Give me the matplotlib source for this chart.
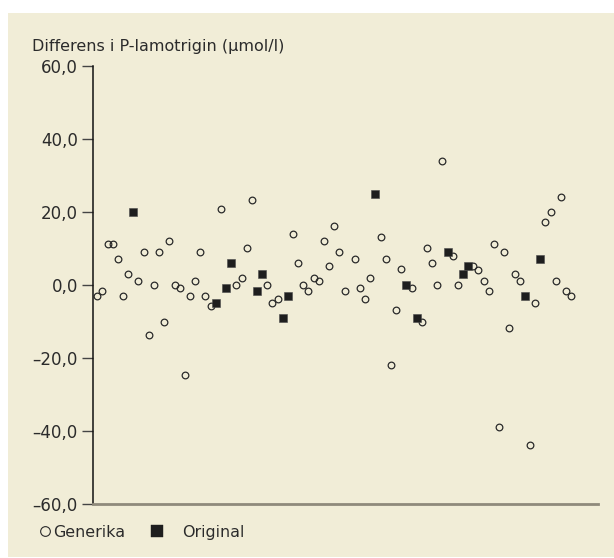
import matplotlib
matplotlib.use("Agg")
import matplotlib.pyplot as plt
from matplotlib.lines import Line2D
from matplotlib.patches import Rectangle
import numpy as np

plt.rcParams['font.family'] = ['DejaVu Sans']

# patient number (no 50) and difference in P-lamotrigin, umol/l
patient = [i for i in range(1, 94) if i != 50]
diff = [-3.0, -1.7, 11.2, 11.2, 7.1, -3.0, 3.0, 20.0, 1.1, 9.0,
        -13.7, 0.1, 9.0, -10.0, 12.1, 0.1, -0.8, -24.7, -3.0, 1.1,
        9.0, -3.0, -5.8, -4.9, 20.9, -0.8, 6.1, 0.1, 2.0, 10.2,
        23.2, -1.7, 3.0, 0.1, -4.9, -3.9, -9.0, -3.0, 14.0, 6.1,
        0.1, -1.7, 2.0, 1.1, 12.1, 5.2, 16.2, 9.0, -1.7,
        7.0, -0.8, -3.9, 2.0, 25.0, 13.1, 7.0, -21.9, -6.8, 4.3,
        0.1, -0.8, -9.0, -10.0, 10.2, 6.1, 0.1, 34.1, 9.0, 7.9,
        0.1, 3.0, 5.2, 5.2, 4.2, 1.1, -1.7, 11.2, -39.0, 9.0,
        -11.9, 3.0, 1.1, -3.0, -43.8, -4.9, 7.0, 17.2, 20.0, 1.1,
        24.1, -1.7, -3.0]
# patients on Original, the rest on Generika
original = [8, 24, 26, 27, 32, 33, 37, 38, 55, 61, 63, 69, 72, 73, 84, 87]
yticks = [-60, -40, -20, 0, 20, 40, 60]

bg = '#f1edd7'
ink = '#2b2b2b'

patient = np.array(patient)
diff = np.array(diff)
is_orig = np.isin(patient, original)

fig = plt.figure(figsize=(6.14, 5.58), dpi=100)
fig.patch.set_facecolor('white')
fig.add_artist(Rectangle((8/614, 1.5/558), 606/614, 543.5/558,
                         transform=fig.transFigure, facecolor=bg, edgecolor='none', zorder=0))

ax = fig.add_axes([93/614, 54/558, 505/614, 438/558])
ax.set_facecolor('none')

ax.plot(patient[~is_orig], diff[~is_orig], 'o', ms=4.8, mfc='none', mec='#2a2a2a', mew=0.9, clip_on=False)
ax.plot(patient[is_orig], diff[is_orig], 's', ms=5.3, mfc='#1e1e1e', mec='#4a4a4a', mew=0.4, clip_on=False)

ax.set_ylim(-60, 60)
ax.set_xlim(0.17, 98.2)
ax.set_xticks([])
ax.set_yticks(yticks)
ax.set_yticklabels([f"{v:.1f}".replace('.', ',').replace('-', '\u2013') for v in yticks])
ax.tick_params(axis='y', length=8.0, width=1.0, color='#444444', labelsize=12.0, labelcolor=ink, pad=2.9)
for s in ['top', 'right']:
    ax.spines[s].set_visible(False)
ax.spines['left'].set_color('#111111')
ax.spines['left'].set_linewidth(1.1)
ax.spines['bottom'].set_color('#8f8a7b')
ax.spines['bottom'].set_linewidth(2.0)

fig.text(31.7/614, 1 - 50.7/558, "Differens i P-lamotrigin (\u00b5mol/l)", ha='left', va='baseline',
         fontsize=11.5, color=ink)

# legend
h1 = Line2D([], [], marker='o', ls='none', ms=7.0, mfc='none', mec='#2a2a2a', mew=0.8)
h2 = Line2D([], [], marker='s', ls='none', ms=8.4, mfc='#1e1e1e', mec='#1e1e1e', mew=0.3)
leg1 = fig.legend([h1], ['Generika'], loc='center left', bbox_to_anchor=(37.9/614, 1 - 532.5/558),
                  frameon=False, fontsize=11.4, handlelength=0.85, handletextpad=0.11,
                  borderpad=0, borderaxespad=0, labelcolor=ink)
leg2 = fig.legend([h2], ['Original'], loc='center left', bbox_to_anchor=(149.9/614, 1 - 532.5/558),
                  frameon=False, fontsize=11.4, handlelength=0.85, handletextpad=1.2,
                  borderpad=0, borderaxespad=0, labelcolor=ink)

plt.savefig("out.png", dpi=100, facecolor=fig.get_facecolor())
